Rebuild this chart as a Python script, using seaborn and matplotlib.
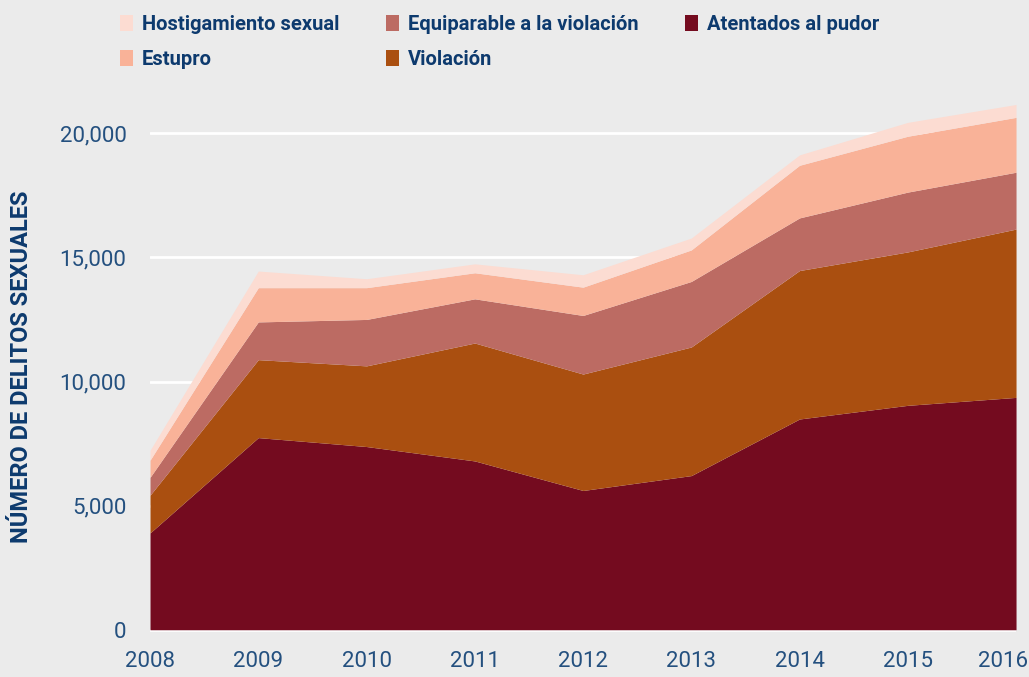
import numpy as np
import pandas as pd
import seaborn as sns
from matplotlib import pyplot as plt
from matplotlib import transforms
from matplotlib.ticker import FuncFormatter

# años y delitos (lectura aproximada del grafico)
years = [2008, 2009, 2010, 2011, 2012, 2013, 2014, 2015, 2016]
atentados = [3900, 7740, 7380, 6800, 5610, 6210, 8490, 9040, 9360]
violacion = [1520, 3140, 3250, 4750, 4690, 5180, 5980, 6180, 6780]
equiparable = [720, 1520, 1870, 1780, 2360, 2640, 2120, 2410, 2290]
estupro = [690, 1380, 1280, 1050, 1140, 1270, 2120, 2250, 2210]
hostigamiento = [400, 670, 360, 360, 500, 480, 420, 560, 520]

labels = ['Atentados al pudor', 'Violación', 'Equiparable a la violación',
          'Estupro', 'Hostigamiento sexual']
colores = ['#740b1f', '#aa4f10', '#bc6b63', '#f9b298', '#fcdcd2']

df = pd.DataFrame({'año': years, labels[0]: atentados, labels[1]: violacion,
                   labels[2]: equiparable, labels[3]: estupro, labels[4]: hostigamiento})

sns.set_style("whitegrid", {'axes.facecolor': '#ebebeb', 'figure.facecolor': '#ebebeb',
                            'grid.color': 'white', 'axes.edgecolor': '#ebebeb'})
plt.rcParams['font.family'] = ['Roboto', 'DejaVu Sans']

navy = '#0d3a6e'
fig = plt.figure(figsize=(10.29, 6.77), dpi=100)
ax = fig.add_axes([0.1458, 0.0665, 0.8416, 0.81])

ax.stackplot(df['año'], *[df[c] for c in labels], colors=colores,
             labels=labels, linewidth=0)
ax.grid(axis='x', visible=False)
ax.grid(axis='y', color='white', linewidth=2)
ax.set_axisbelow(True)
ax.set_xlim(2008, 2016)
ax.set_ylim(-90, 22000)
ax.set_yticks([0, 5000, 10000, 15000, 20000])
ax.set_xticks(years)
ax.yaxis.set_major_formatter(FuncFormatter(lambda v, p: f'{int(v):,}'))
ax.tick_params(axis='both', length=0, labelcolor='#24507f', labelsize=16)
ax.tick_params(axis='y', pad=17)
ax.tick_params(axis='x', pad=14)
for s in ax.spines.values():
    s.set_visible(False)

# el ultimo año queda pegado al borde derecho
fig.canvas.draw()
last = ax.get_xticklabels()[-1]
last.set_horizontalalignment('right')
last.set_transform(last.get_transform() +
                   transforms.ScaledTranslation(12 / 100, 0, fig.dpi_scale_trans))

fig.text(0.021, 0.458, 'NÚMERO DE DELITOS SEXUALES', rotation=90, ha='center',
         va='center', fontsize=17, fontweight='bold', color=navy)

# leyenda: arriba, de la capa superior a la inferior
h, l = ax.get_legend_handles_labels()
leg = fig.legend(h[::-1], l[::-1], ncol=3, loc='upper left',
                 bbox_to_anchor=(120 / 1029, 1 - 15 / 677), frameon=False,
                 borderaxespad=0, borderpad=0,
                 fontsize=14.5, handlelength=0.65, handleheight=0.8,
                 handletextpad=0.45, columnspacing=2.3, labelspacing=0.8)
for t in leg.get_texts():
    t.set_color(navy)
    t.set_fontweight('bold')

plt.savefig('out.png', dpi=100, facecolor='#ebebeb')
